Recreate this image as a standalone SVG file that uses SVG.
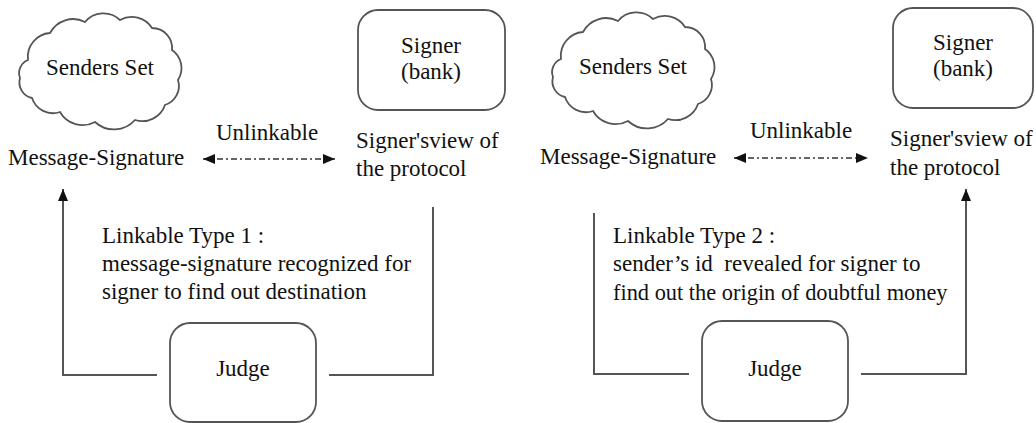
<svg xmlns="http://www.w3.org/2000/svg" xmlns:xlink="http://www.w3.org/1999/xlink" width="1036" height="423" viewBox="0 0 1036 423" font-family="'Liberation Serif', 'DejaVu Serif', 'Times New Roman', Times, serif">
<style>
text{font-family:'Liberation Serif','DejaVu Serif','Times New Roman',Times,serif;font-size:23px;fill:#111}
.c{text-anchor:middle}
.shape{fill:#fff;stroke:#555;stroke-width:1.8}
.ln{fill:none;stroke:#555;stroke-width:2}
.dd{fill:none;stroke:#333;stroke-width:1.5;stroke-dasharray:6 3 2 3}
</style>
<defs>
<path id="cloud" d="M28,60 A24,24 0 0 1 50,33 A26,26 0 0 1 85,22 A24,24 0 0 1 120,20 A24,24 0 0 1 152,28 A20,20 0 0 1 172,50 A22,22 0 0 1 178,80 A20,20 0 0 1 165,105 A24,24 0 0 1 135,120 A28,28 0 0 1 95,122 A26,26 0 0 1 60,112 A22,22 0 0 1 32,98 A16,16 0 0 1 20,78 A14,14 0 0 1 28,60 Z"/>
<marker id="ah" viewBox="0 0 12 10" refX="12" refY="5" markerWidth="12" markerHeight="10" markerUnits="userSpaceOnUse" orient="auto-start-reverse">
<path d="M0,0 L12,5 L0,10 Z" fill="#111"/>
</marker>
</defs>

<g id="connectors">
<line class="dd" x1="203" y1="159" x2="335" y2="159" marker-start="url(#ah)" marker-end="url(#ah)"/>
<line class="dd" x1="734" y1="158" x2="868" y2="158" marker-start="url(#ah)" marker-end="url(#ah)"/>
<polyline class="ln" points="157,375 63,375 63,189" marker-end="url(#ah)"/>
<polyline class="ln" points="329,375 433,375 433,207"/>
<polyline class="ln" points="594,213 594,374 689,374"/>
<polyline class="ln" points="861,374 966,374 966,189" marker-end="url(#ah)"/>
</g>

<g id="senders-set-1">
<use xlink:href="#cloud" class="shape"/>
<text class="c" x="100" y="75">Senders Set</text>
</g>
<g id="signer-1">
<rect class="shape" x="358" y="10" width="147" height="100" rx="20"/>
<text class="c" x="431" y="53">Signer</text>
<text class="c" x="431" y="79">(bank)</text>
</g>
<g id="message-signature-1">
<text x="8" y="165">Message-Signature</text>
</g>
<g id="unlinkable-1">
<text class="c" x="267" y="140">Unlinkable</text>
</g>
<g id="signer-view-1">
<text x="356" y="148">Signer'sview of</text>
<text x="356" y="176">the protocol</text>
</g>
<g id="linkable-1">
<text x="102" y="243">Linkable Type 1 :</text>
<text x="102" y="271">message-signature recognized for</text>
<text x="102" y="299">signer to find out destination</text>
</g>
<g id="judge-1">
<rect class="shape" x="170" y="323" width="146" height="99" rx="20"/>
<text class="c" x="243" y="376">Judge</text>
</g>

<g id="senders-set-2">
<use xlink:href="#cloud" class="shape" transform="translate(533,-1)"/>
<text class="c" x="633" y="74">Senders Set</text>
</g>
<g id="signer-2">
<rect class="shape" x="893" y="8" width="140" height="100" rx="20"/>
<text class="c" x="963" y="50">Signer</text>
<text class="c" x="963" y="76">(bank)</text>
</g>
<g id="message-signature-2">
<text x="540" y="164">Message-Signature</text>
</g>
<g id="unlinkable-2">
<text class="c" x="801" y="138">Unlinkable</text>
</g>
<g id="signer-view-2">
<text x="890" y="146">Signer'sview of</text>
<text x="890" y="175">the protocol</text>
</g>
<g id="linkable-2">
<text x="613" y="243">Linkable Type 2 :</text>
<text x="613" y="271" style="white-space:pre">sender’s id  revealed for signer to</text>
<text x="613" y="300" style="font-size:22.4px">find out the origin of doubtful money</text>
</g>
<g id="judge-2">
<rect class="shape" x="702" y="321" width="146" height="100" rx="20"/>
<text class="c" x="775" y="376">Judge</text>
</g>
</svg>
